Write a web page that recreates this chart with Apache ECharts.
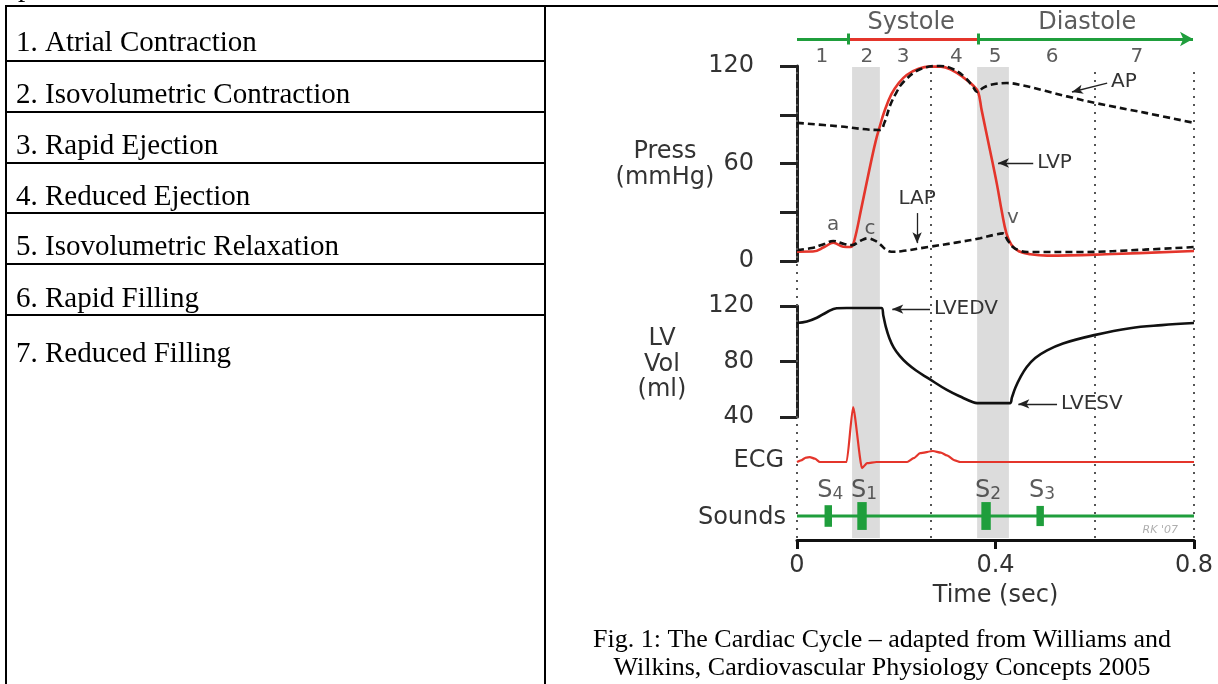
<!DOCTYPE html>
<html>
<head>
<meta charset="utf-8">
<title>The Cardiac Cycle</title>
<script src="https://cdn.jsdelivr.net/npm/echarts@6/dist/echarts.min.js"></script>
<style>
  html, body { margin: 0; padding: 0; background: #fff; }
  #main { width: 1218px; height: 684px; }
</style>
</head>
<body>
<div id="main"></div>
<script>
var chart = echarts.init(document.getElementById('main'));

// ---- data (time in seconds) ----
var phaseRows = ['1. Atrial Contraction', '2. Isovolumetric Contraction', '3. Rapid Ejection',
  '4. Reduced Ejection', '5. Isovolumetric Relaxation', '6. Rapid Filling', '7. Reduced Filling'];

var phaseNames = ['1', '2', '3', '4', '5', '6', '7'];
var phaseMidTimes = [0.050, 0.141, 0.214, 0.321, 0.399, 0.514, 0.685];
var greyPhases = [[0.111, 0.167], [0.363, 0.427]];
var boundaryTimes = [0, 0.266, 0.6, 0.8];
var systoleStart = 0.103, systoleEnd = 0.365, cycleEnd = 0.798;

// LV pressure (mmHg)
var lvpPoints = [[0,5.7],[0.032,5.8],[0.055,8.6],[0.073,11.2],[0.093,8.8],[0.108,8.6],[0.115,12],
  [0.13,33],[0.145,55],[0.158,73],[0.167,83],[0.176,92],[0.19,102.5],[0.205,109.5],[0.221,114.5],
  [0.245,118.3],[0.268,119.6],[0.29,119.6],[0.312,117.5],[0.335,113],[0.355,108],[0.365,104],
  [0.372,93],[0.389,68],[0.403,47],[0.413,30],[0.422,17],[0.432,10],[0.447,6],[0.47,4.2],[0.504,3.3],
  [0.637,4.3],[0.8,6.2]];
// aortic pressure
var apPoints = [[0,85],[0.08,83],[0.167,80.6],[0.176,85],[0.188,96],[0.2,103.5],[0.214,110],
  [0.248,118],[0.288,120],[0.315,118],[0.34,112.5],[0.355,107],[0.363,104],[0.375,106.5],[0.39,108.4],
  [0.423,109.5],[0.456,108],[0.5,104.7],[0.544,101.3],[0.6,97.3],[0.7,91.3],[0.8,85]];
// left atrial pressure
var lapPoints = [[0,6.8],[0.03,8],[0.055,10.5],[0.073,12.3],[0.095,10.5],[0.111,9.8],[0.128,12.5],
  [0.143,14],[0.157,12.5],[0.167,10.5],[0.178,7.3],[0.19,5.7],[0.21,6],[0.264,8.6],[0.32,11.3],
  [0.369,14],[0.4,16.3],[0.415,17],[0.424,13],[0.435,8.6],[0.45,6.3],[0.464,5.5],[0.57,5.5],
  [0.7,7],[0.8,8.6]];
// LV volume (ml)
var volPoints = [[0,107.7],[0.02,108.8],[0.04,111.5],[0.06,115.5],[0.08,118.4],[0.1,118.6],[0.17,118.6],
  [0.174,113],[0.179,105],[0.186,97],[0.195,90],[0.207,84],[0.222,78.5],[0.24,73.5],[0.264,68],
  [0.302,59.5],[0.335,53.7],[0.355,50.6],[0.363,50],[0.429,50],[0.433,54],[0.44,61],[0.45,68.5],
  [0.463,76],[0.48,82.5],[0.504,88],[0.536,93],[0.599,99],[0.671,104],[0.735,106.2],[0.8,107.7]];
// ECG (mV, approx)
var ecgPoints = [[0,0],[0.008,0.03],[0.018,0.08],[0.026,0.09],[0.036,0.06],[0.046,0],[0.1,0],
  [0.113,1.0],[0.131,-0.11],[0.141,-0.02],[0.16,0],[0.222,0],[0.235,0.07],[0.248,0.16],[0.274,0.2],
  [0.29,0.17],[0.302,0.12],[0.318,0.03],[0.329,0],[0.8,0]];
// heart sounds
var soundNames = ['4', '1', '2', '3'];
var soundTimes = [0.063, 0.131, 0.381, 0.49];
var soundStrength = [0.45, 0.58, 0.58, 0.42];

var pressLabels = [0, 60, 120];
var waveNames = ['a', 'c', 'v'];
var wavePoints = [[0.073, 22], [0.147, 20], [0.435, 26.5]];

// ---- styles ----
var RED = '#e4352b', GREEN = '#1f9e3c', INK = '#333', SANS = 'DejaVu Sans', SERIF = 'Liberation Serif';
var GL = 797, GW = 397;

function txt(x, y, s, font, align) {
  return { type: 'text', x: x, y: y, silent: true,
    style: { text: s, font: font, fill: '#000', align: align || 'left', textAlign: align || 'left',
      verticalAlign: 'middle', textVerticalAlign: 'middle' } };
}
function ln(x1, y1, x2, y2) {
  return { type: 'line', silent: true, shape: { x1: x1, y1: y1, x2: x2, y2: y2 },
    style: { stroke: '#000', lineWidth: 2 } };
}

var graphics = [];
// table frame
graphics.push(ln(5, 6, 1218, 6));
graphics.push(ln(6, 6, 6, 684));
graphics.push(ln(545, 6, 545, 684));
var rowLines = [61, 112, 163, 213, 264, 315];
rowLines.forEach(function (y) { graphics.push(ln(6, y, 545, y)); });
var rowCenters = [43, 95, 146, 197, 247, 299, 354];
phaseRows.forEach(function (s, i) { graphics.push(txt(16, rowCenters[i], s, '29px "' + SERIF + '"')); });
graphics.push(txt(18, -12, 'phases.', '29px "' + SERIF + '"'));
// caption
graphics.push(txt(882, 640, 'Fig. 1: The Cardiac Cycle \u2013 adapted from Williams and', '26px "' + SERIF + '"', 'center'));
graphics.push(txt(882, 668, 'Wilkins, Cardiovascular Physiology Concepts 2005', '26px "' + SERIF + '"', 'center'));
// axis names
function sideLabel(x, y, s, align) {
  var t = txt(x, y, s, '24px "' + SANS + '"', align);
  t.style.fill = INK;
  return t;
}
graphics.push(sideLabel(665, 152, 'Press', 'center'));
graphics.push(sideLabel(665, 178, '(mmHg)', 'center'));
graphics.push(sideLabel(662, 339, 'LV', 'center'));
graphics.push(sideLabel(662, 365, 'Vol', 'center'));
graphics.push(sideLabel(662, 390, '(ml)', 'center'));
graphics.push(sideLabel(784, 461, 'ECG', 'right'));
graphics.push(sideLabel(786, 518, 'Sounds', 'right'));

function hiddenX(i) {
  return { gridIndex: i, type: 'value', min: 0, max: 0.8, show: false };
}
function hiddenY(i, mn, mx) {
  return { gridIndex: i, type: 'value', min: mn, max: mx, show: false };
}
function bracketY(i, mn, mx, step, fmt) {
  return {
    gridIndex: i, type: 'value', min: mn, max: mx, interval: step, offset: 14,
    axisLine: { show: true, lineStyle: { color: '#222', width: 3 } },
    axisTick: { show: true, length: 17, lineStyle: { color: '#222', width: 3 } },
    axisLabel: { show: true, margin: 29, fontSize: 24, fontFamily: SANS, color: INK, formatter: fmt },
    splitLine: { show: false }
  };
}

function labelScatter(xi, data, size, color) {
  return {
    type: 'scatter', xAxisIndex: xi, yAxisIndex: xi, symbolSize: 0, silent: true, z: 5,
    itemStyle: { color: 'rgba(0,0,0,0)' },
    label: { show: true, position: 'inside', formatter: '{b}', fontSize: size, fontFamily: SANS, color: color || INK },
    data: data
  };
}

function arrows(list) {
  return {
    silent: true, symbol: ['none', 'arrow'], symbolSize: [7, 11], animation: false,
    lineStyle: { color: '#222', width: 1.3, type: 'solid' },
    label: { show: true, position: 'start', formatter: '{b}', fontSize: 20, fontFamily: SANS, color: INK, distance: 4 },
    data: list.map(function (a) { return [{ name: a[0], coord: a[1] }, { coord: a[2] }]; })
  };
}

function curve(name, xi, data, color, width, dashed, sm) {
  return { name: name, type: 'line', xAxisIndex: xi, yAxisIndex: xi, data: data, symbol: 'none', clip: false,
    smooth: sm, silent: true, z: dashed ? 4 : 3,
    lineStyle: { color: color, width: width, type: dashed ? [7, 4] : 'solid' } };
}

var lapSeries = curve('LAP', 2, lapPoints, '#111', 2.6, true, 0.4);
lapSeries.markLine = arrows([
  ['AP', [0.625, 109.5], [0.554, 104]],
  ['LVP', [0.476, 60.3], [0.405, 60.3]],
  ['LAP', [0.242, 29.5], [0.242, 11]]
]);
var volSeries = curve('LV Vol', 3, volPoints, '#111', 2.6, false, 0.4);
volSeries.markLine = arrows([
  ['LVEDV', [0.268, 117.8], [0.192, 117.8]],
  ['LVESV', [0.524, 49.4], [0.446, 49.4]]
]);
var ecgSeries = curve('ECG', 4, ecgPoints, RED, 2.2, false, 0.2);
ecgSeries.smoothMonotone = 'x';

var option = {
  animation: false,
  backgroundColor: '#fff',
  graphic: { elements: graphics },
  grid: [
    { left: GL, width: GW, top: 17, height: 44 },   // 0 systole / diastole bar
    { left: GL, width: GW, top: 67, height: 471 },  // 1 background bands
    { left: GL, width: GW, top: 66, height: 195 },  // 2 pressure
    { left: GL, width: GW, top: 306, height: 111 }, // 3 volume
    { left: GL, width: GW, top: 407, height: 66 },  // 4 ecg
    { left: GL, width: GW, top: 480, height: 60 }   // 5 sounds + time
  ],
  xAxis: [hiddenX(0), hiddenX(1), hiddenX(2), hiddenX(3), hiddenX(4), {
    gridIndex: 5, type: 'value', min: 0, max: 0.8, interval: 0.4,
    axisLine: { show: true, lineStyle: { color: '#111', width: 3 } },
    axisTick: { show: true, length: 9, lineStyle: { color: '#111', width: 3 } },
    axisLabel: { show: true, margin: 14, fontSize: 24, fontFamily: SANS, color: INK, showMinLabel: true, showMaxLabel: true,
      formatter: function (v) { return v === 0 ? '0' : v.toFixed(1); } },
    splitLine: { show: false },
    name: 'Time (sec)', nameLocation: 'middle', nameGap: 44,
    nameTextStyle: { fontSize: 24, fontFamily: SANS, color: INK }
  }],
  yAxis: [
    hiddenY(0, 0, 4),
    hiddenY(1, 0, 1),
    bracketY(2, 0, 120, 30, function (v) { return pressLabels.indexOf(v) >= 0 ? String(v) : ''; }),
    bracketY(3, 40, 120, 40, function (v) { return String(v); }),
    hiddenY(4, -0.2, 1.0),
    hiddenY(5, 0, 2.5)
  ],
  series: [
    { // grey phases and dotted boundaries
      type: 'line', xAxisIndex: 1, yAxisIndex: 1, data: [[0, 0]], symbol: 'none', silent: true, z: 1,
      lineStyle: { opacity: 0 },
      markArea: { silent: true, itemStyle: { color: '#dcdcdc' },
        data: greyPhases.map(function (p) { return [{ xAxis: p[0] }, { xAxis: p[1] }]; }) },
      markLine: { silent: true, symbol: ['none', 'none'], label: { show: false },
        lineStyle: { color: '#555', type: [2, 6], width: 2 },
        data: boundaryTimes.map(function (t) { return { xAxis: t }; }) }
    },
    { // systole / diastole bar
      type: 'line', xAxisIndex: 0, yAxisIndex: 0, data: [[0, 2]], symbol: 'none', silent: true,
      lineStyle: { opacity: 0 },
      markLine: {
        silent: true, symbol: ['none', 'none'], label: { show: false },
        lineStyle: { width: 3, type: 'solid', color: GREEN },
        data: [
          [{ coord: [0, 2], lineStyle: { color: GREEN } }, { coord: [systoleStart, 2] }],
          [{ coord: [systoleStart, 2], lineStyle: { color: RED } }, { coord: [systoleEnd, 2] }],
          [{ coord: [systoleEnd, 2], lineStyle: { color: GREEN } }, { coord: [cycleEnd, 2], symbol: 'arrow', symbolSize: [11, 13] }],
          [{ coord: [systoleStart, 1.5], lineStyle: { color: GREEN } }, { coord: [systoleStart, 2.5] }],
          [{ coord: [systoleEnd, 1.5], lineStyle: { color: GREEN } }, { coord: [systoleEnd, 2.5] }]
        ]
      }
    },
    labelScatter(0, phaseNames.map(function (n, i) { return { name: n, value: [phaseMidTimes[i], 0.36] }; }), 20),
    labelScatter(0, [{ name: 'Systole', value: [0.230, 3.45] }, { name: 'Diastole', value: [0.585, 3.45] }], 24),

    curve('LVP', 2, lvpPoints, RED, 2.6, false, 0.4),
    curve('AP', 2, apPoints, '#111', 2.6, true, 0.4),
    lapSeries,
    labelScatter(2, waveNames.map(function (n, i) { return { name: n, value: wavePoints[i] }; }), 20),

    volSeries,
    ecgSeries,

    { name: 'Sounds', type: 'line', xAxisIndex: 5, yAxisIndex: 5, data: [[0, 1], [0.8, 1]], symbol: 'none',
      lineStyle: { color: GREEN, width: 3 }, z: 3, silent: true },
    { type: 'custom', xAxisIndex: 5, yAxisIndex: 5, z: 4, silent: true,
      data: soundTimes.map(function (t, i) { return [t, soundStrength[i]]; }),
      encode: { x: 0 },
      renderItem: function (params, api) {
        var t = api.value(0), h = api.value(1);
        var top = api.coord([t, 1 + h]);
        var bot = api.coord([t, 1 - h]);
        var w = api.size([h > 0.5 ? 0.019 : 0.015, 0])[0];
        return { type: 'rect', shape: { x: top[0] - w / 2, y: top[1], width: w, height: bot[1] - top[1] },
          style: { fill: GREEN } };
      } },
    {
      type: 'scatter', xAxisIndex: 5, yAxisIndex: 5, symbolSize: 0, silent: true, z: 5,
      itemStyle: { color: 'rgba(0,0,0,0)' },
      label: { show: true, position: 'inside', formatter: function (p) { return '{s|S}{n|' + p.name + '}'; },
        rich: {
          s: { fontSize: 24, fontFamily: SANS, color: INK, verticalAlign: 'bottom', lineHeight: 26 },
          n: { fontSize: 17, fontFamily: SANS, color: INK, verticalAlign: 'bottom', lineHeight: 22 }
        } },
      data: soundNames.map(function (n, i) { return { name: n, value: [soundTimes[i] + 0.004, 2.08] }; })
    },
    {
      type: 'scatter', xAxisIndex: 5, yAxisIndex: 5, symbolSize: 0, silent: true, z: 5,
      itemStyle: { color: 'rgba(0,0,0,0)' },
      label: { show: true, position: 'inside', formatter: '{b}', fontSize: 11, fontStyle: 'italic',
        fontFamily: SANS, color: '#9a9a9a' },
      data: [{ name: "RK '07", value: [0.732, 0.42] }]
    }
  ]
};

chart.setOption(option);
</script>
</body>
</html>
